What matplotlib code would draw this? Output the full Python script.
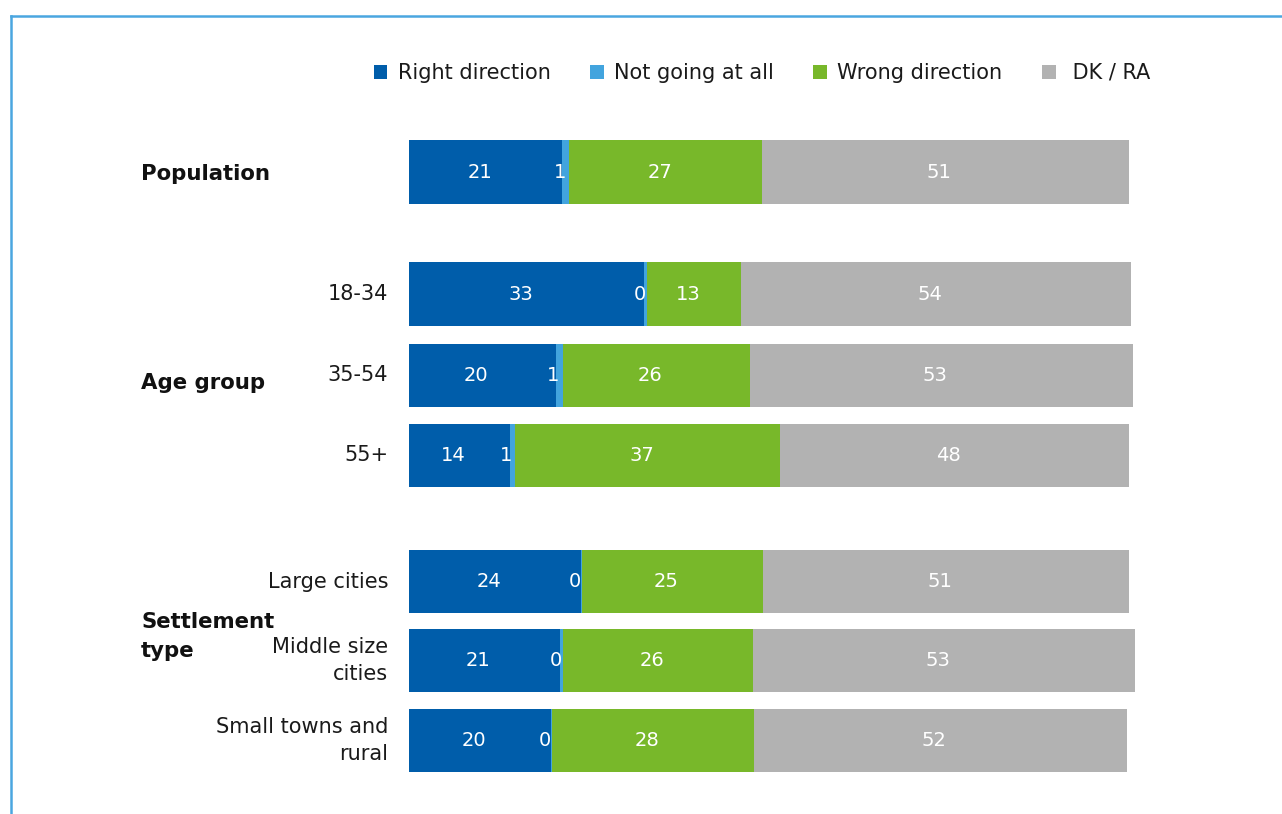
import numpy as np
import matplotlib.pyplot as plt
from matplotlib.lines import Line2D

plt.rcParams['font.family'] = ['DejaVu Sans']

# survey shares, %
rows = ['', '18-34', '35-54', '55+', 'Large cities', 'Middle size\ncities', 'Small towns and\nrural']
right_dir = [21.3, 32.7, 20.4, 14.0, 23.9, 21.0, 19.7]
not_going = [0.97, 0.33, 0.93, 0.74, 0.1, 0.4, 0.1]
wrong_dir = [26.8, 13.1, 26.0, 36.8, 25.1, 26.4, 28.1]
dk_ra = [50.9, 54.2, 53.2, 48.4, 50.9, 53.1, 51.8]

series_names = ['Right direction', 'Not going at all', 'Wrong direction', ' DK / RA']
colors = ['#005daa', '#42a4de', '#78b82a', '#b2b2b2']

groups = ['Population', 'Age group', 'Settlement\ntype']

# layout (row centres, top to bottom)
ypos = np.array([0.65, 2.175, 3.19, 4.19, 5.77, 6.76, 7.76])
group_y = [0.67, 3.285, 6.46]
bar_h = 0.79

fig = plt.figure(figsize=(12.82, 8.14), dpi=100)
ax = fig.add_axes([409 / 1282, 14 / 814, 792 / 1282, 680 / 814])
ax.set_xlim(0, 110)
ax.set_ylim(8.5, 0)
ax.axis('off')

data = [np.array(right_dir), np.array(not_going), np.array(wrong_dir), np.array(dk_ra)]
left = np.zeros(len(ypos))
handles = []
for k, vals in enumerate(data):
    b = ax.barh(ypos, vals, left=left, height=bar_h, color=colors[k], label=series_names[k])
    handles.append(b)
    for i, v in enumerate(vals):
        xc = left[i] + v / 2 - 0.85
        ax.text(xc, ypos[i], '{:.0f}'.format(v), color='white', ha='center', va='center', fontsize=14)
    left = left + vals

for i, lab in enumerate(rows):
    if lab:
        ax.text(-2.9, ypos[i], lab, ha='right', va='center', multialignment='right',
                fontsize=15, color='#1a1a1a', linespacing=1.45)

for g, y in zip(groups, group_y):
    ax.text(-37.2, y, g, ha='left', va='center', fontsize=15.3, fontweight='bold',
            color='#111111', linespacing=1.55)

fig.legend(handles=handles, loc='center', bbox_to_anchor=(762 / 1282, 1 - 73 / 814),
           ncol=4, frameon=False, fontsize=15, handlelength=0.65, handleheight=0.65,
           handletextpad=0.5, columnspacing=1.9, labelcolor='#1a1a1a')

# frame lines
fig.add_artist(Line2D([11 / 1282, 11 / 1282], [0, 1 - 16 / 814], color='#4aa6e0', lw=1.8,
                      transform=fig.transFigure))
fig.add_artist(Line2D([11 / 1282, 1], [1 - 16 / 814, 1 - 16 / 814], color='#4aa6e0', lw=1.8,
                      transform=fig.transFigure))

fig.savefig('out.png', dpi=100)
